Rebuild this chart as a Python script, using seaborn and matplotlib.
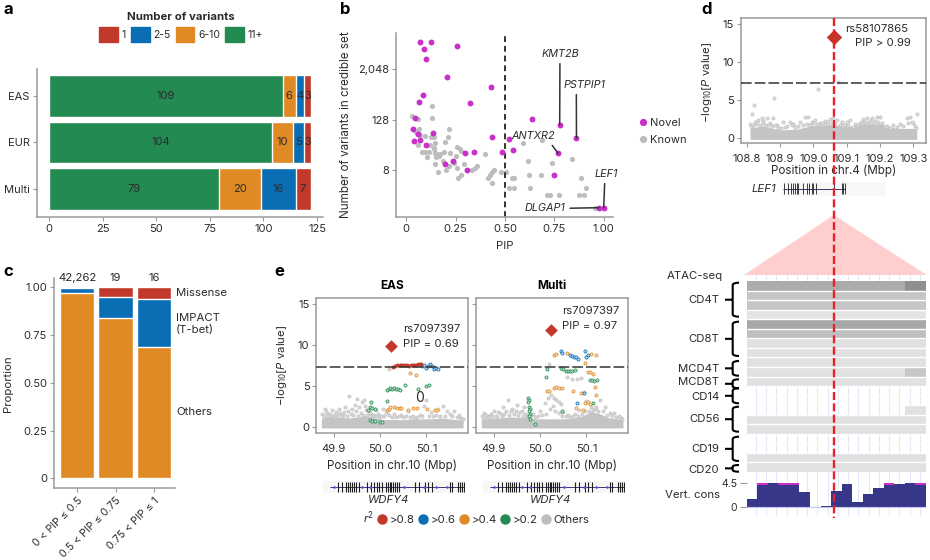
import matplotlib
matplotlib.use('Agg')
import matplotlib.pyplot as plt
from matplotlib.colors import LinearSegmentedColormap
from matplotlib.lines import Line2D
from matplotlib.patches import Patch, PathPatch, Polygon
from matplotlib.path import Path
from matplotlib.ticker import FuncFormatter
import numpy as np
import seaborn as sns

W, H = 930, 560

RED = '#C0392B'
BLUE = '#0A6EB4'
ORANGE = '#E08A25'
GREEN = '#238A52'
GRAY = '#C4C4C4'
MAGENTA = '#C92FC9'
AXIS = '#9A9A9A'
TEXT = '#2B2B2B'

# panel a
pops = ['EAS', 'EUR', 'Multi']
var_bins = ['1', '2-5', '6-10', '11+']
n_11plus = [109, 104, 79]
n_6to10 = [6, 10, 20]
n_2to5 = [4, 5, 16]
n_1 = [3, 3, 7]

# panel b
novel_pip = [.07, .123, .09, .256, .10, .204, .427, .084, .066, .324, .044, .639, .777, .032, .133, .059, .433,
             .862, .518, .071, .039, .101, .541, .342, .486, .295, .769, .238, .196, .31, .747, .976, 1.0]
novel_n = [9400, 9200, 6200, 7300, 3700, 1340, 760, 510, 345, 315, 143, 131, 96, 77, 61, 58, 48,
           46, 43, 41, 39, 31, 24, 22, 21, 20, 20, 13, 11, 8, 6, 1, 1]
known_pip = [.029, .057, .128, .130, .214, .209, .062, .051, .071, .093, .123, .142, .057, .145, .197, .256, .270,
             .278, .079, .096, .106, .116, .140, .147, .155, .164, .172, .189, .223, .250, .184, .143, .162, .201,
             .214, .243, .258, .290, .260, .275, .332, .346, .356, .401, .413, .423, .432, .442, .435, .482, .504,
             .518, .548, .538, .545, .619, .624, .626, .683, .712, .730, .772, .740, .838, .592, .685, .887, .909,
             .875, .899, .956, .978, .138, .152, .121]
known_n = [153, 135, 143, 267, 75, 48, 75, 66, 55, 51, 49, 48, 32, 36, 38, 29, 26,
           23, 22, 21, 16, 22, 27, 20, 19, 17, 19, 21, 20, 17, 13, 11, 7, 8,
           10, 12, 9, 11, 5, 6, 8, 9, 10, 19, 5, 6, 7, 8, 4, 7, 7,
           3, 3, 5, 5, 13, 6, 3, 6, 2, 2, 2, 12, 15, 36, 42, 5, 3,
           2, 2, 1, 1, 25, 16, 31]

# panel c
pip_bins = ['0 < PIP ≤ 0.5', '0.5 < PIP ≤ 0.75', '0.75 < PIP ≤ 1']
bin_counts = ['42,262', '19', '16']
prop_others = [.97, .842, .6875]
prop_impact = [.027, .105, .25]
prop_missense = [.003, .053, .0625]

# panel e
eas_red_x = [50.028, 50.033, 50.037, 50.042, 50.046, 50.05, 50.054, 50.058, 50.062, 50.066, 50.07, 50.074, 50.078, 50.082, 50.086, 50.089]
eas_red_y = [7.35, 7.45, 7.55, 7.6, 7.55, 7.6, 7.55, 7.6, 7.5, 7.55, 7.6, 7.55, 7.6, 7.65, 7.7, 7.75]
eas_blue_x = [50.09, 50.095, 50.1, 50.104, 50.108, 50.112, 50.116, 50.12, 50.124]
eas_blue_y = [7.5, 7.55, 7.2, 7.5, 7.75, 7.4, 7.1, 7.2, 7.05]
eas_orange_x = [50.065, 50.077, 50.014, 50.018, 50.022, 50.03, 50.036, 50.042, 50.046, 50.06, 50.071, 50.08, 50.102, 50.118, 50.122]
eas_orange_y = [6.6, 6.35, 2.05, 2.2, 2.5, 2.4, 2.35, 2.3, 2.3, 2.05, 2.3, 2.35, 2.2, 2.05, 2.05]
eas_green_x = [50.014, 50.018, 50.022, 50.026, 50.03, 50.034, 50.038, 50.042, 50.053, 50.082, 50.1, 50.106, 49.98, 49.974,
               49.978, 49.982, 49.988, 49.978, 49.983, 49.988, 50.0, 50.004, 50.014]
eas_green_y = [4.5, 4.7, 4.8, 4.7, 4.75, 4.65, 4.6, 4.5, 5.1, 4.7, 5.0, 5.1, 3.0, 2.1, 2.5, 2.3, 2.2, .85, .75, .7, .55, .55, 3.2]
eas_gray_x = [49.88, 49.885, 49.895, 49.905, 49.91, 49.92, 49.925, 49.933, 49.94, 49.945, 49.95, 49.955, 49.96, 49.965, 49.97,
              49.975, 49.98, 49.99, 49.995, 50.005, 50.015, 50.02, 50.03, 50.045, 50.06, 50.07, 50.085, 50.095, 50.1, 50.11,
              50.125, 50.135, 50.145, 50.15, 50.16, 50.17, 50.175, 50.019,
              49.875, 49.878, 49.882, 49.887, 49.892, 49.897, 49.9, 49.903, 49.908, 49.913, 49.917, 49.922, 49.928, 49.931,
              49.936, 49.942, 49.948, 49.952, 49.958, 49.962, 49.968, 49.972, 49.977, 49.983, 49.987, 49.992, 49.998, 50.002,
              50.008, 50.012, 50.025, 50.035, 50.04, 50.05, 50.055, 50.065, 50.075, 50.08, 50.09, 50.105, 50.115, 50.12,
              50.13, 50.14, 50.155, 50.165, 50.172, 50.178]
eas_gray_y = [2.2, 1.7, 2.1, 1.8, 2.2, 1.5, 2.5, 3.8, 2.2, 2.7, 3.4, 2.4, 3.0, 3.3, 2.1,
              1.9, 1.6, 2.1, 1.6, 2.2, 2.0, 1.5, 1.6, 1.5, 1.9, 1.4, 1.5, 2.6, 3.3, 1.8,
              2.2, 2.6, 2.0, 1.6, 1.9, 1.5, 1.1, 7.07,
              1.6, 1.3, 1.9, 1.4, 1.6, 1.3, 1.5, 1.2, 1.5, 1.7, 1.4, 1.8, 1.3, 1.9,
              1.6, 1.5, 2.0, 1.4, 1.7, 1.5, 2.6, 1.5, 1.7, 1.3, 1.5, 1.3, 1.2, 1.4,
              1.3, 1.7, 1.2, 1.2, 1.3, 1.2, 1.3, 1.2, 1.1, 1.2, 1.3, 1.4, 1.3, 1.5,
              1.3, 1.4, 1.3, 1.2, 1.1, 1.0]
multi_orange_x = [50.03, 50.034, 50.058, 50.097, 50.11, 50.12, 50.103, 50.108, 50.115, 50.014, 50.02, 50.03, 50.035, 50.04, 50.047,
                  50.072, 50.088, 50.119, 50.121, 50.097, 50.103, 50.108, 50.077, 50.092]
multi_orange_y = [8.85, 8.9, 9.1, 7.85, 8.94, 8.78, 6.75, 6.67, 6.5, 4.39, 4.39, 4.8, 4.85, 4.8, 4.75,
                  4.39, 4.19, 4.9, 3.9, 2.9, 3.0, 2.8, 2.28, 2.07]
multi_blue_x = [50.045, 50.047, 50.065, 50.069, 50.073, 50.077, 50.081, 50.097, 50.1, 50.104, 50.094, 50.079]
multi_blue_y = [9.3, 9.1, 8.75, 8.7, 8.6, 8.5, 8.3, 9.3, 8.6, 8.85, 4.19, 2.9]
multi_green_x = [50.014, 50.013, 50.045, 50.05, 50.055, 50.06, 50.065, 50.07, 50.075, 50.108, 50.112, 50.117, 50.122,
                 49.975, 49.976, 49.975, 49.977, 49.978, 49.976, 49.978, 49.977, 49.978, 49.989, 50.047, 50.115]
multi_green_y = [7.07, 6.14, 7.2, 7.05, 6.9, 6.85, 6.8, 6.85, 7.0, 5.75, 5.7, 5.65, 5.7,
                 3.6, 3.3, 3.1, 2.4, 2.2, 2.0, 1.6, 1.3, 1.0, .37, 2.0, 2.9]
multi_gray_x = [49.88, 49.89, 49.9, 49.91, 49.92, 49.93, 49.94, 49.95, 49.96, 49.965, 49.97, 49.985, 50.0, 50.01, 50.018, 50.024,
                50.03, 50.035, 50.04, 50.045, 50.02, 50.058, 50.07, 50.08, 50.088, 50.094, 50.1, 50.11, 50.12, 50.13, 50.14,
                50.15, 50.16, 50.17, 50.175, 50.05, 50.06, 50.075, 50.085,
                49.875, 49.878, 49.884, 49.887, 49.893, 49.897, 49.904, 49.907, 49.914, 49.918, 49.923, 49.927, 49.934, 49.937,
                49.944, 49.947, 49.953, 49.957, 49.963, 49.968, 49.973, 49.981, 49.99, 49.995, 50.005, 50.013, 50.022, 50.028,
                50.033, 50.04, 50.048, 50.055, 50.065, 50.072, 50.082, 50.09, 50.098, 50.105, 50.114, 50.118, 50.125, 50.135,
                50.145, 50.155, 50.165, 50.172, 50.178]
multi_gray_y = [1.7, 1.3, 2.0, 1.8, 2.5, 3.3, 2.2, 2.7, 1.9, 2.4, 1.5, 1.6, 2.0, 2.9, 3.6, 3.9,
                3.5, 3.3, 3.0, 2.8, 7.7, 6.1, 5.9, 5.9, 6.0, 4.3, 3.2, 2.4, 2.5, 3.3, 2.5,
                1.7, 1.7, 1.3, 1.1, 1.8, 1.5, 1.6, 2.1,
                1.3, 1.1, 1.5, 1.2, 1.6, 1.3, 1.4, 1.2, 1.7, 1.3, 1.6, 1.9, 1.5, 2.0,
                1.6, 1.9, 1.5, 1.8, 1.4, 1.6, 1.3, 1.5, 1.2, 1.3, 1.5, 1.6, 2.2, 2.6,
                1.9, 1.7, 1.4, 1.3, 1.2, 1.3, 1.4, 1.6, 1.9, 2.0, 2.1, 2.2, 2.0, 2.0,
                1.5, 1.3, 1.2, 1.1, 1.0]
cloud_x_e = [49.873, 49.89, 49.91, 49.93, 49.95, 49.97, 49.99, 50.01, 50.03, 50.05, 50.07, 50.09, 50.11, 50.13, 50.15, 50.179]
cloud_top_eas = [1.1, 1.3, 1.2, 1.1, 1.2, 1.4, 1.1, .9, .9, .9, 1.0, 1.0, 1.0, 1.1, 1.0, .8]
cloud_top_multi = [1.0, 1.1, 1.1, 1.2, 1.2, 1.2, 1.0, 1.0, 1.0, 1.0, 1.1, 1.3, 1.9, 1.6, 1.1, .9]
eas_lead = (50.024, 9.88)
multi_lead = (50.024, 11.9)
wdfy4_exons = [49.908, 49.917, 49.927, 49.931, 49.935, 49.939, 49.943, 49.947, 49.954, 49.971, 49.981, 49.987, 49.992, 49.997,
               50.003, 50.012, 50.016, 50.02, 50.024, 50.028, 50.032, 50.037, 50.041, 50.076, 50.083, 50.096, 50.104, 50.111,
               50.151, 50.156, 50.167, 50.172, 50.176, 50.181]
wdfy4_arrows = [49.902, 49.963, 49.981, 50.053, 50.096, 50.122, 50.147]

# panel d
lef1_other_x = [108.815, 108.821, 108.883, 109.015, 109.075, 109.311, 108.81, 108.825, 108.835, 108.845, 108.85, 108.86, 108.87, 108.88,
                108.89, 108.91, 108.93, 108.94, 108.96, 108.975, 108.985, 108.995, 109.005, 109.02, 109.035, 109.05, 109.06, 109.07,
                109.085, 109.1, 109.11, 109.125, 109.14, 109.15, 109.16, 109.175, 109.19, 109.2, 109.22, 109.24, 109.26, 109.28,
                109.29, 109.3, 109.305,
                108.812, 108.818, 108.828, 108.832, 108.84, 108.848, 108.855, 108.865, 108.875, 108.885, 108.895, 108.902, 108.915,
                108.922, 108.935, 108.945, 108.955, 108.968, 108.98, 108.99, 109.0, 109.01, 109.025, 109.03, 109.04, 109.045, 109.055,
                109.065, 109.08, 109.09, 109.095, 109.105, 109.118, 109.13, 109.135, 109.145, 109.155, 109.165, 109.17, 109.18, 109.185,
                109.195, 109.205, 109.215, 109.23, 109.25, 109.27, 109.285, 109.295, 109.308]
lef1_other_y = [3.2, 4.4, 5.25, 6.47, 7.43, 3.15, 1.9, 2.2, 2.4, 2.7, 2.3, 2.7, 2.0, 2.7,
                1.8, 2.1, 2.2, 1.9, 2.1, 2.8, 2.8, 2.2, 2.4, 2.0, 2.3, 2.5, 2.6, 2.4,
                2.2, 2.2, 2.4, 1.9, 2.0, 2.5, 2.6, 2.6, 2.8, 2.8, 1.6, 1.7, 1.9, 2.7,
                2.8, 2.0, 1.6,
                1.5, 1.7, 1.9, 2.1, 1.8, 2.0, 1.7, 1.8, 1.6, 1.8, 1.4, 1.3, 1.5,
                1.6, 1.7, 1.5, 1.6, 1.7, 1.9, 1.8, 2.0, 1.9, 1.8, 2.0, 1.9, 2.1, 2.0,
                1.9, 1.7, 1.6, 1.8, 1.7, 1.5, 1.6, 1.8, 2.1, 2.2, 2.0, 2.3, 2.1, 2.3,
                2.2, 2.0, 1.5, 1.4, 1.5, 1.6, 2.0, 2.1, 1.4]
cloud_x_d = [108.81, 108.85, 108.9, 108.95, 109.0, 109.05, 109.1, 109.15, 109.2, 109.25, 109.31]
cloud_top_d = [1.4, 1.6, 1.1, 1.2, 1.7, 1.8, 1.5, 1.9, 1.9, 1.3, 1.3]
lef1_lead = (109.061, 13.3)
lef1_exons = [108.912, 108.925, 108.932, 108.938, 108.944, 108.95, 108.955, 108.968, 108.98, 108.987, 108.995, 109.0, 109.008,
              109.062, 109.085, 109.09, 109.095]

# ATAC tracks, darkness per row, and in the last two columns
atac_rows = [.33, .23, .23, .11, .34, .25, .12, .12, .12, .12, .12, np.nan, np.nan, np.nan, .12, .12, np.nan, np.nan, .12, .12]
atac_last = [.44, .23, .23, .11, .34, .25, .12, .12, .12, .22, .12, np.nan, np.nan, .12, .12, .12, np.nan, np.nan, .12, .12]
cell_types = ['CD4T', 'CD8T', 'MCD4T', 'MCD8T', 'CD14', 'CD56', 'CD19', 'CD20']
cons_low = [1.6, 4.1, 4.5, 4.1, 4.1, 2.8, -.2, .3, 3.0, 4.3, .9, 2.5, 3.7, 4.1, 4.3, 4.5, 4.1]
cons_high = [0, 4.5, 0, 4.5, 4.5, 0, 0, 0, 0, 0, 0, 0, 0, 4.5, 0, 0, 4.5]

sns.set_theme(style='ticks')
plt.rcParams['font.family'] = ['Inter', 'DejaVu Sans']
plt.rcParams['mathtext.fontset'] = 'custom'
plt.rcParams['mathtext.rm'] = 'Inter'
plt.rcParams['mathtext.it'] = 'Inter:italic'
plt.rcParams['font.size'] = 8
plt.rcParams['text.color'] = TEXT


def axes_px(x0, y0, x1, y1, **kw):
    return fig.add_axes([x0 / W, 1 - y1 / H, (x1 - x0) / W, (y1 - y0) / H], **kw)


def px_text(x, y, s, **kw):
    kw.setdefault('va', 'center')
    kw.setdefault('fontsize', 8.2)
    return fig.text(x / W, 1 - y / H, s, **kw)


def style_axes(ax, box=False):
    for side in ['left', 'bottom', 'top', 'right']:
        ax.spines[side].set_visible(box or side in ['left', 'bottom'])
        ax.spines[side].set_color(AXIS)
        ax.spines[side].set_linewidth(1.1)
    ax.tick_params(colors=TEXT, labelsize=8, color=AXIS, length=3, width=.8, pad=2)
    ax.set_xlabel('')
    ax.set_ylabel('')


def overlay(zorder):
    ax = axes_px(0, 0, W, H)
    ax.set_xlim(0, W)
    ax.set_ylim(H, 0)
    ax.axis('off')
    ax.set_zorder(zorder)
    ax.patch.set_alpha(0)
    return ax


def scatter_open(ax, x, y, color, fill, s=5):
    sns.scatterplot(x=x, y=y, ax=ax, color=fill, edgecolor=color, s=s, linewidth=.55, legend=False, zorder=3)


def gene_track(ax, exons, arrows, start, end, lim, lw=.8):
    ax.set_facecolor('#F7F7F7')
    ax.set_xlim(*lim)
    ax.set_ylim(0, 1)
    ax.set_xticks([])
    ax.set_yticks([])
    for s in ax.spines.values():
        s.set_visible(False)
    ax.hlines(.5, start, end, color='#3C3C64', lw=.7)
    ax.vlines(exons, .1, .9, color='#202020', lw=lw)
    if arrows:
        ax.scatter(arrows, [.5] * len(arrows), marker='>', s=6, color='#5A4FE0', linewidths=0, zorder=3)


fig = plt.figure(figsize=(W / 100, H / 100), dpi=100)
back = overlay(0)
front = overlay(10)

# a: stacked bars, widest layer first
ax = axes_px(36.7, 69, 323, 216.7)
cum = np.array(n_11plus) + n_6to10 + np.array(n_2to5) + n_1
sns.barplot(x=cum, y=pops, color=RED, saturation=1, width=.9, ax=ax, orient='h')
cum2 = cum - np.array(n_1)
sns.barplot(x=cum2, y=pops, color=BLUE, saturation=1, width=.9, ax=ax, orient='h')
cum3 = cum2 - np.array(n_2to5)
sns.barplot(x=cum3, y=pops, color=ORANGE, saturation=1, width=.9, ax=ax, orient='h')
sns.barplot(x=n_11plus, y=pops, color=GREEN, saturation=1, width=.9, ax=ax, orient='h')
for i in range(3):
    ax.text(n_11plus[i] / 2, i, str(n_11plus[i]), ha='center', va='center', fontsize=8)
    ax.text((n_11plus[i] + cum3[i]) / 2, i, str(n_6to10[i]), ha='center', va='center', fontsize=8)
    ax.text((cum3[i] + cum2[i]) / 2, i, str(n_2to5[i]), ha='center', va='center', fontsize=8)
    ax.text((cum2[i] + cum[i]) / 2, i, str(n_1[i]), ha='center', va='center', fontsize=8)
ax.set_xlim(-5.9, 127.8)
ax.set_ylim(2.596, -.58)
ax.set_xticks([0, 25, 50, 75, 100, 125])
style_axes(ax)
fig.legend([Patch(color=c) for c in [RED, BLUE, ORANGE, GREEN]], var_bins, ncol=4, loc='center', frameon=False,
           bbox_to_anchor=(181 / W, 1 - 27 / H), title='Number of variants', fontsize=7.5, handlelength=1.8, handleheight=1.8,
           handletextpad=.35, columnspacing=.5, borderpad=0, title_fontproperties={'weight': 'bold', 'size': 8.2})

# b: PIP against credible set size
ax = axes_px(396, 33, 613, 217)
sns.scatterplot(x=known_pip, y=known_n, color='#BDBDBD', s=14, linewidth=0, ax=ax, legend=False)
sns.scatterplot(x=novel_pip, y=novel_n, color=MAGENTA, s=18, linewidth=0, ax=ax, legend=False, zorder=3)
ax.set_yscale('log', base=2)
ax.axvline(.5, color='#333333', lw=1.4, ls=(0, (3, 2)))
ax.set_xlim(-.052, 1.047)
ax.set_ylim(2 ** -.74, 2 ** 13.89)
ax.set_xticks([0, .25, .5, .75, 1])
ax.set_xticklabels(['0', '0.25', '0.50', '0.75', '1.00'])
ax.set_yticks([8, 128, 2048])
ax.yaxis.set_major_formatter(FuncFormatter(lambda v, p: format(int(v), ',')))
ax.minorticks_off()
style_axes(ax)
line_kw = dict(arrowstyle='-', lw=1.1, color='#333333', shrinkA=1, shrinkB=0)
for gene, pip, n, tx, ty, rel in [('KMT2B', .777, 96, 560.7, 54, (.48, 0)), ('PSTPIP1', .862, 46, 584.7, 85, (.3, 0)),
                                  ('ANTXR2', .769, 20, 533.3, 136, (.86, 0)), ('LEF1', 1.0, 1, 606, 174, (.45, 0)),
                                  ('DLGAP1', .976, 1, 545, 208.3, (1, .5))]:
    ax.annotate(gene, xy=(pip, n), xytext=(tx / W, 1 - ty / H), textcoords='figure fraction', ha='center', va='center',
                style='italic', fontsize=7.8, arrowprops=dict(relpos=rel, **line_kw))
px_text(505, 246, 'PIP', ha='center')
px_text(346, 125, 'Number of variants in credible set', rotation=90, ha='center', fontsize=8.4)
fig.legend([Line2D([], [], marker='o', ls='', color=c, ms=4.2) for c in [MAGENTA, '#BDBDBD']], ['Novel', 'Known'],
           loc='center left', bbox_to_anchor=(632 / W, 1 - 131.5 / H), frameon=False, fontsize=8, handlelength=1,
           handletextpad=.15, labelspacing=.7, borderpad=0)

# c: annotation share per PIP bin
ax = axes_px(54, 278, 175, 488.3)
cum_c = np.array(prop_others) + prop_impact
sns.barplot(x=pip_bins, y=cum_c + prop_missense, color=RED, saturation=1, width=.9, ax=ax)
sns.barplot(x=pip_bins, y=cum_c, color=BLUE, saturation=1, width=.9, ax=ax)
sns.barplot(x=pip_bins, y=prop_others, color=ORANGE, saturation=1, width=.9, ax=ax)
for i, c in enumerate(bin_counts):
    ax.text(i, 1.049, c, ha='center', va='center', fontsize=8.2, clip_on=False)
ax.set_xlim(-.605, 2.55)
ax.set_ylim(-.052, 1.049)
ax.set_yticks([0, .25, .5, .75, 1])
ax.set_yticklabels(['0', '0.25', '0.50', '0.75', '1.00'])
style_axes(ax)
plt.setp(ax.get_xticklabels(), rotation=45, ha='right', rotation_mode='anchor', fontsize=7.6)
px_text(8.3, 383.3, 'Proportion', rotation=90, ha='center')
px_text(176, 293.3, 'Missense')
px_text(176, 324, 'IMPACT\n(T-bet)', linespacing=1.25)
px_text(176, 411.7, 'Others')

# e: regional association, EAS and Multi
panels_e = [
    (316.3, 468.3, 49.862, 'EAS', cloud_top_eas, eas_gray_x, eas_gray_y, eas_green_x, eas_green_y, eas_orange_x, eas_orange_y,
     eas_blue_x, eas_blue_y, eas_lead),
    (475.7, 628.3, 49.861, 'Multi', cloud_top_multi, multi_gray_x, multi_gray_y, multi_green_x, multi_green_y, multi_orange_x,
     multi_orange_y, multi_blue_x, multi_blue_y, multi_lead),
]
for k, p in enumerate(panels_e):
    x0, x1, xmin, name, top, gx, gy, grx, gry, ox, oy, bx, by, lead = p
    ax = axes_px(x0, 298.3, x1, 432.7)
    ax.fill_between(cloud_x_e, -.12, top, color=GRAY, lw=0, zorder=1)
    scatter_open(ax, gx, gy, '#C4C4C4', '#D8D8D8')
    scatter_open(ax, grx, gry, GREEN, '#BFE0CC')
    scatter_open(ax, ox, oy, ORANGE, '#F5DDBE')
    scatter_open(ax, bx, by, BLUE, '#BBD9EE')
    if k == 0:
        scatter_open(ax, eas_red_x, eas_red_y, RED, RED)
    ax.axhline(7.3, color='#333333', lw=1.1, ls=(0, (7, 2)), zorder=4)
    sns.scatterplot(x=[lead[0]], y=[lead[1]], marker='D', color=RED, s=42, linewidth=0, ax=ax, legend=False, zorder=5)
    ax.set_xlim(xmin, xmin + (x1 - x0) / 463)
    ax.set_ylim(-.7, 15.73)
    ax.set_xticks([49.9, 50.0, 50.1])
    ax.set_xticklabels(['49.9', '50.0', '50.1'])
    ax.set_yticks([0, 5, 10, 15])
    style_axes(ax, box=True)
    if k == 1:
        ax.set_yticklabels([])
    ax.tick_params(axis='x', pad=5)
    px_text((x0 + x1) / 2, 286, name, ha='center', weight='bold', fontsize=8.5, color='black')
    px_text(x0 + 76, 465.7, 'Position in chr.10 (Mbp)', ha='center', fontsize=8.4)
    g = axes_px(323.3 + 160 * k, 480.7, 465 + 160 * k, 492.7)
    gene_track(g, wdfy4_exons, wdfy4_arrows, 49.891, 50.181, (49.877, 50.183))
    px_text(389 + 161.3 * k, 500, 'WDFY4', ha='center', style='italic')
px_text(281.7, 365.7, r'$-$log$_{10}$[$P$ value]', rotation=90, ha='center')
px_text(402.7, 328.7, 'rs7097397')
px_text(402.7, 344, 'PIP = 0.69')
px_text(562.3, 311, 'rs7097397')
px_text(562.3, 326, 'PIP = 0.97')
px_text(420, 397.7, '0', ha='center', fontsize=10)
e_handles = [Line2D([], [], ls='')] + [Line2D([], [], marker='o', ls='', color=c, ms=6.5) for c in [RED, BLUE, ORANGE, GREEN, '#BDBDBD']]
fig.legend(e_handles, ['$r^2$', '>0.8', '>0.6', '>0.4', '>0.2', 'Others'], ncol=6, loc='center', frameon=False,
           bbox_to_anchor=(470 / W, 1 - 517.7 / H), fontsize=8.2, handlelength=.8, handletextpad=.25, columnspacing=.35, borderpad=0)

# d: LEF1 locus
ax = axes_px(741, 18.3, 925.7, 143.3)
ax.fill_between(cloud_x_d, -.15, cloud_top_d, color=GRAY, lw=0, zorder=1)
scatter_open(ax, lef1_other_x, lef1_other_y, '#BDBDBD', '#E2E2E2')
ax.axhline(7.3, color='#333333', lw=1.1, ls=(0, (7, 2)), zorder=4)
sns.scatterplot(x=[lef1_lead[0]], y=[lef1_lead[1]], marker='D', color=RED, s=62, linewidth=0, ax=ax, legend=False, zorder=5)
ax.set_xlim(108.783, 109.337)
ax.set_ylim(-.66, 15.75)
ax.set_xticks([108.8, 108.9, 109.0, 109.1, 109.2, 109.3])
ax.set_xticklabels(['108.8', '108.9', '109.0', '109.1', '109.2', '109.3'])
ax.set_yticks([0, 5, 10, 15])
style_axes(ax, box=True)
ax.tick_params(axis='x', pad=5)
px_text(707, 82, r'$-$log$_{10}$[$P$ value]', rotation=90, ha='center')
px_text(833.3, 170.7, 'Position in chr.4 (Mbp)', ha='center', fontsize=8.4)
px_text(845, 28.5, 'rs58107865')
px_text(911, 43.5, 'PIP > 0.99', ha='right')
g = axes_px(781.7, 181.7, 885, 195.7)
gene_track(g, lef1_exons, None, 108.91, 109.095, (108.905, 109.215), lw=.6)
px_text(751.7, 189.3, 'LEF1', style='italic')

# zoom cone and faint guide lines
back.add_patch(Polygon([(833.7, 215), (744, 275), (926.7, 275)], color='#FFCFCF', lw=0))
for gx in np.arange(755.7, 926, 10.27):
    back.plot([gx, gx], [275, 515], color='#E6E6FA', lw=.8)

# ATAC tracks
ax = axes_px(746.7, 281, 926, 472)
atac = np.column_stack([np.repeat(np.array(atac_rows)[:, None], 15, axis=1), np.repeat(np.array(atac_last)[:, None], 2, axis=1)])
cmap = LinearSegmentedColormap.from_list('grey', ['white', 'black'])
sns.heatmap(atac, cmap=cmap, vmin=0, vmax=1, cbar=False, ax=ax, xticklabels=False, yticklabels=False)
ax.hlines(range(1, 20), 0, 17, color='white', lw=1.0)
ax.patch.set_alpha(0)
ax.tick_params(length=0)

# row braces with their labels
brace_spans = [(282.7, 316.7), (321.7, 356), (361, 375.7), (379.3, 388.3), (388.3, 403.3), (406.7, 431.7), (436.7, 461), (465, 471.7)]
label_y = [300, 339.3, 369, 382.3, 396.7, 419.3, 449.3, 470]
for name, (y0, y1), ly in zip(cell_types, brace_spans, label_y):
    px_text(719.3, ly, name, ha='right')
    xb, xr = 732.7, 739
    mid = (y0 + y1) / 2
    r = min(2.5, (y1 - y0) / 4)
    verts = [(xr, y0), (xb, y0), (xb, y0 + r), (xb, y1 - r), (xb, y1), (xr, y1), (xb, mid), (725, mid)]
    codes = [Path.MOVETO, Path.CURVE3, Path.CURVE3, Path.LINETO, Path.CURVE3, Path.CURVE3, Path.MOVETO, Path.LINETO]
    front.add_patch(PathPatch(Path(verts, codes), fc='none', ec='black', lw=1.5))
px_text(666.7, 275.7, 'ATAC-seq')

# conservation track
ax = axes_px(746.7, 483.3, 926, 509.4)
sites = list(range(len(cons_low)))
sns.barplot(x=sites, y=cons_high, color=MAGENTA, saturation=1, width=1, linewidth=0, ax=ax)
sns.barplot(x=sites, y=cons_low, color='#37378A', saturation=1, width=1, linewidth=0, ax=ax)
for b in ax.patches:
    if b.get_height() < 0:
        b.set_color('#C9A0A0')
ax.axhline(0, color='#C8C8EE', lw=.8)
ax.set_xlim(-.5, 16.5)
ax.set_ylim(-.4, 4.5)
ax.set_xticks([])
ax.set_yticks([0, 4.5])
ax.set_yticklabels(['0', '4.5'])
ax.patch.set_alpha(0)
style_axes(ax)
for s in ax.spines.values():
    s.set_visible(False)
ax.tick_params(axis='y', length=5, labelsize=7.5)
px_text(665, 495, 'Vert. cons')

# lead variant line across the whole column
front.plot([833.7, 833.7], [18, 518], color='#E8202A', lw=1.7, ls=(0, (3.4, 1.4)))

for s, x, y in [('a', 3, 10), ('b', 340, 9), ('c', 3, 271), ('d', 701, 9), ('e', 274, 271)]:
    px_text(x, y, s, weight='bold', fontsize=12, color='black')

fig.savefig('out.png', dpi=100)
